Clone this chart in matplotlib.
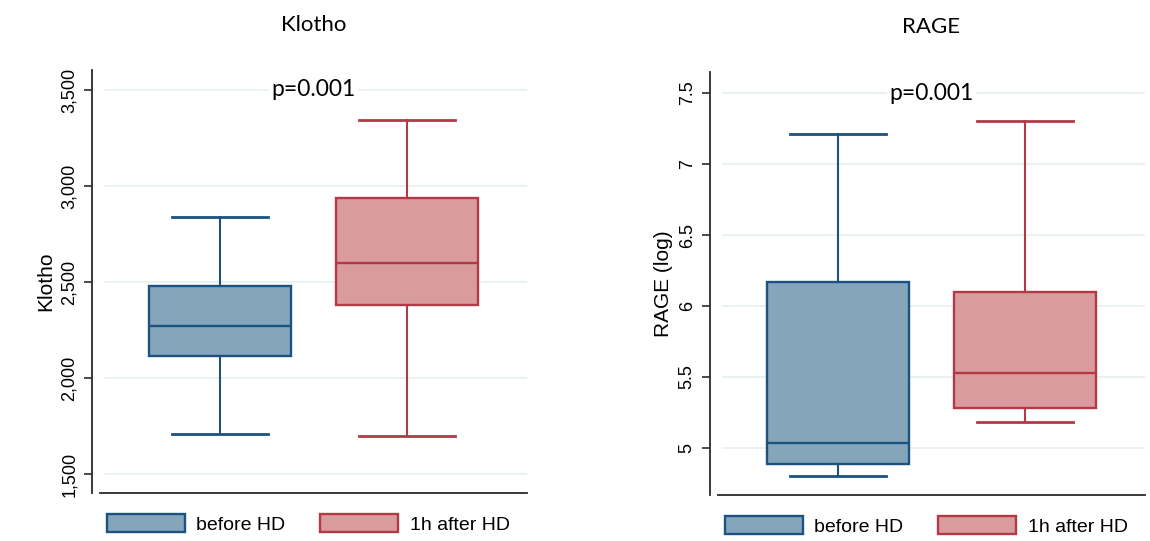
import matplotlib as mpl
import matplotlib.pyplot as plt
from matplotlib.patches import Patch

# five-number summaries: whislo, q1, median, q3, whishi
groups = ["before HD", "1h after HD"]
klotho_before = [1707, 2117, 2270, 2477, 2840]
klotho_after = [1700, 2380, 2598, 2935, 3346]
rage_before = [4.80, 4.887, 5.033, 6.17, 7.21]
rage_after = [5.18, 5.284, 5.526, 6.10, 7.30]

klotho_ticks = [1500, 2000, 2500, 3000, 3500]
klotho_ticklabels = ["1,500", "2,000", "2,500", "3,000", "3,500"]
rage_ticks = [5, 5.5, 6, 6.5, 7, 7.5]
rage_ticklabels = ["5", "5.5", "6", "6.5", "7", "7.5"]

FILL = ["#85A5BA", "#D99B9E"]
EDGE = ["#1B5282", "#B23A44"]
GRID = "#E6EFF1"

mpl.rcParams.update({
    "font.family": ["Liberation Sans", "DejaVu Sans"],
    "font.size": 10.5,
})


def stats(vals, label):
    lo, q1, med, q3, hi = vals
    return dict(whislo=lo, q1=q1, med=med, q3=q3, whishi=hi, fliers=[], label=label)


def panel(ax, before, after, ticks, ticklabels, ylim, title, ylabel):
    # spine offset first: set_position resets tick formatting
    for s in ["top", "right"]:
        ax.spines[s].set_visible(False)
    ax.spines["left"].set_position(("outward", 6))
    for s in ["left", "bottom"]:
        ax.spines[s].set_color("#2a2a2a")
        ax.spines[s].set_linewidth(1.3)

    bs = [stats(before, groups[0]), stats(after, groups[1])]
    for i, s in enumerate(bs):
        ax.bxp([s], positions=[i + 1], widths=0.76, capwidths=0.51,
               patch_artist=True, showfliers=False, manage_ticks=False,
               boxprops=dict(facecolor=FILL[i], edgecolor=EDGE[i], lw=1.7),
               medianprops=dict(color=EDGE[i], lw=1.7),
               whiskerprops=dict(color=EDGE[i], lw=1.5),
               capprops=dict(color=EDGE[i], lw=2.0), zorder=3)
    ax.set_xlim(0.358, 2.642)
    ax.set_ylim(*ylim)
    ax.set_xticks([])
    ax.set_yticks(ticks)
    ax.set_yticklabels(ticklabels, rotation=90, va="center", fontsize=13)
    for t in ticks:
        ax.axhline(t, color=GRID, lw=1.2, zorder=0, xmin=0.012)
    ax.tick_params(axis="y", length=6, width=1.2, color="#2a2a2a", pad=4)
    ax.set_title(title, family=["Lato", "DejaVu Sans"], fontsize=16, pad=28)
    ax.set_ylabel(ylabel, fontsize=15, labelpad=4)
    ax.text(1.5, ticks[-1], "p=0.001", family=["Lato", "DejaVu Sans"],
            fontsize=16.5, ha="center", va="center", zorder=4,
            bbox=dict(fc="white", ec="none", pad=2))
    handles = [Patch(facecolor=FILL[i], edgecolor=EDGE[i], lw=1.7, label=groups[i])
               for i in range(2)]
    ax.legend(handles=handles, loc="upper left", bbox_to_anchor=(0.016, -0.05),
              ncol=2, frameon=False, fontsize=14, handlelength=4.0,
              handleheight=1.0, handletextpad=0.6, columnspacing=1.8,
              borderpad=0, borderaxespad=0)


fig = plt.figure(figsize=(11.5, 5.41), dpi=100)
ax1 = fig.add_axes([100 / 1150, 48 / 541, 427 / 1150, 423 / 541])
ax2 = fig.add_axes([718 / 1150, 46 / 541, 427 / 1150, 423 / 541])

panel(ax1, klotho_before, klotho_after, klotho_ticks, klotho_ticklabels,
      (1401, 3604), "Klotho", "Klotho")
panel(ax2, rage_before, rage_after, rage_ticks, rage_ticklabels,
      (4.669, 7.648), "RAGE", "RAGE (log)")

fig.savefig("out.png", dpi=100, facecolor="white")
